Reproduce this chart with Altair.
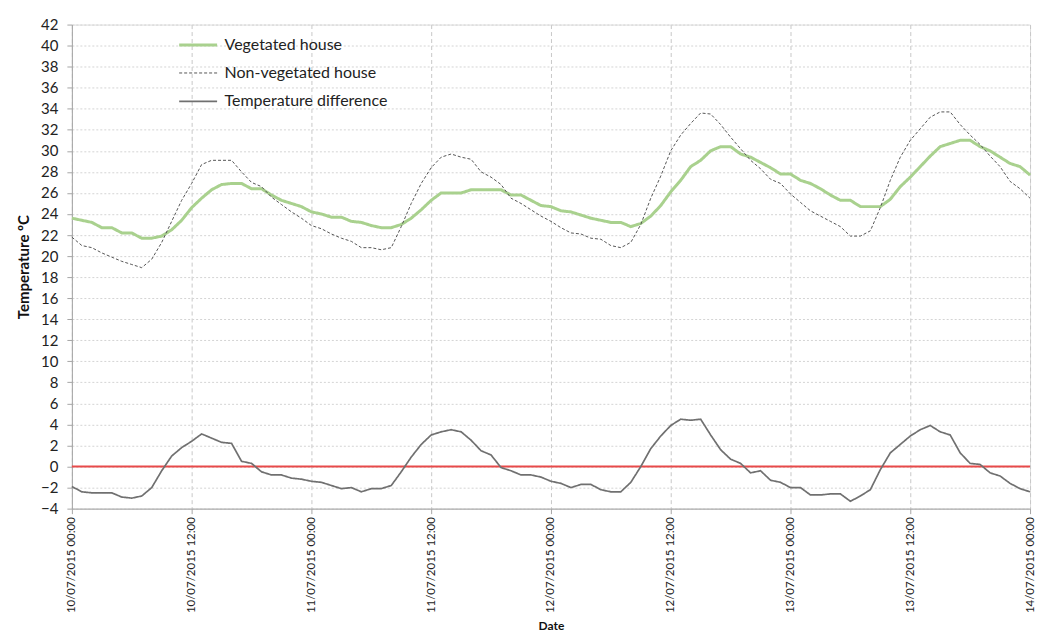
import altair as alt
import pandas as pd

series_names = ["Vegetated house", "Non-vegetated house", "Temperature difference"]

vegetated = [
    23.6, 23.4, 23.2, 22.7, 22.7, 22.2, 22.2, 21.7, 21.7, 21.9, 22.5, 23.4, 24.6, 25.5, 26.3, 26.8, 26.9, 26.9, 26.4, 26.4, 25.8, 25.3, 25.0, 24.7, 24.2,
    24.0, 23.7, 23.7, 23.3, 23.2, 22.9, 22.7, 22.7, 23.0, 23.6, 24.4, 25.3, 26.0, 26.0, 26.0, 26.3, 26.3, 26.3, 26.3, 25.8, 25.8, 25.3, 24.8, 24.7,
    24.3, 24.2, 23.9, 23.6, 23.4, 23.2, 23.2, 22.8, 23.1, 23.8, 24.8, 26.1, 27.2, 28.5, 29.1, 30.0, 30.4, 30.4, 29.7, 29.4, 28.9, 28.4, 27.8, 27.8,
    27.2, 26.9, 26.4, 25.8, 25.3, 25.3, 24.7, 24.7, 24.7, 25.4, 26.6, 27.5, 28.5, 29.5, 30.4, 30.7, 31.0, 31.0, 30.4, 30.0, 29.4, 28.8, 28.5, 27.7,
]

non_vegetated = [
    21.8, 21.0, 20.8, 20.3, 19.9, 19.5, 19.2, 18.9, 19.7, 21.3, 23.3, 25.3, 26.9, 28.7, 29.1, 29.1, 29.1, 28.0, 27.0, 26.6, 25.6, 24.9, 24.2, 23.6, 22.9,
    22.6, 22.1, 21.7, 21.4, 20.8, 20.8, 20.6, 20.8, 22.8, 25.0, 26.9, 28.4, 29.4, 29.7, 29.4, 29.2, 28.0, 27.5, 26.8, 25.5, 25.0, 24.4, 23.8, 23.3,
    22.7, 22.2, 22.1, 21.7, 21.6, 21.0, 20.8, 21.3, 23.0, 25.5, 27.6, 30.0, 31.5, 32.6, 33.6, 33.5, 32.5, 31.3, 30.2, 29.1, 28.3, 27.3, 26.9, 25.9,
    25.1, 24.3, 23.8, 23.3, 22.8, 21.9, 21.9, 22.4, 24.6, 27.2, 29.4, 31.0, 32.1, 33.2, 33.7, 33.7, 32.5, 31.5, 30.6, 29.5, 28.5, 27.1, 26.4, 25.5,
]

difference = [
    -1.9, -2.4, -2.5, -2.5, -2.5, -2.9, -3.0, -2.8, -2.0, -0.4, 1.0, 1.8, 2.4, 3.1, 2.7, 2.3, 2.2, 0.5, 0.3, -0.5, -0.8, -0.8, -1.1, -1.2, -1.4,
    -1.5, -1.8, -2.1, -2.0, -2.4, -2.1, -2.1, -1.8, -0.5, 0.9, 2.1, 3.0, 3.3, 3.5, 3.3, 2.5, 1.5, 1.1, -0.1, -0.4, -0.8, -0.8, -1.0, -1.4,
    -1.6, -2.0, -1.7, -1.7, -2.2, -2.4, -2.4, -1.5, 0.0, 1.7, 2.9, 3.9, 4.5, 4.4, 4.5, 3.0, 1.6, 0.7, 0.3, -0.6, -0.4, -1.3, -1.5, -2.0,
    -2.0, -2.7, -2.7, -2.6, -2.6, -3.3, -2.8, -2.2, -0.3, 1.3, 2.1, 2.9, 3.5, 3.9, 3.3, 3.0, 1.3, 0.3, 0.2, -0.6, -0.9, -1.6, -2.1, -2.4,
]

times = pd.date_range("2015-07-10 00:00", periods=len(vegetated), freq="h").strftime("%Y-%m-%dT%H:%M:%S").tolist()
zero_line = [0]
y_ticks = list(range(-4, 43, 2))
x_tick_hours = list(range(0, 97, 12))

rows = []
for name, vals in zip(series_names, [vegetated, non_vegetated, difference]):
    for t, v in zip(times, vals):
        rows.append({"time": t, "value": v, "series": name})
df = pd.DataFrame(rows)
zero_df = pd.DataFrame({"value": zero_line})

x_values = [alt.DateTime(year=2015, month=7, date=10 + h // 24, hours=h % 24) for h in x_tick_hours]

FONT = "Lato"

legend = alt.Legend(
    title=None, orient="none", legendX=106, legendY=0,
    symbolType="stroke", symbolSize=1444, labelFontSize=16, labelFont=FONT,
    labelColor="#222222", rowPadding=-5, labelOffset=6, labelLimit=400,
)

x_enc = alt.X(
    "time:T",
    scale=alt.Scale(domain=[x_values[0], x_values[-1]]),
    axis=alt.Axis(
        values=x_values, format="%d/%m/%Y %H:%M", labelAngle=270,
        labelFont=FONT, labelFontSize=11.5, labelColor="#222222", labelOverlap=False,
        title="Date", titleFont=FONT, titleFontSize=12, titleFontWeight="bold",
        titleColor="#111111", titlePadding=8,
        grid=True, gridColor="#c8c8c8", gridDash=[4, 3], gridWidth=1,
        domainColor="#a6a6a6", tickColor="#a6a6a6", tickSize=5, labelPadding=3,
    ),
)

y_axis = alt.Axis(
    values=y_ticks, labelFont=FONT, labelFontSize=15, labelColor="#222222",
    labelOverlap=False, labelBound=False,
    title="Temperature ºC", titleFont=FONT, titleFontSize=15,
    titleFontWeight="bold", titleColor="#111111", titlePadding=9,
    grid=True, gridColor="#d4d4d4", gridDash=[2, 2], gridWidth=1,
    domainColor="#a6a6a6", tickColor="#a6a6a6", tickSize=5, labelPadding=9,
)
y_scale = alt.Scale(domain=[-4, 42], nice=False, zero=False)

lines = alt.Chart(df).mark_line().encode(
    x=x_enc,
    y=alt.Y("value:Q", scale=y_scale, axis=y_axis),
    color=alt.Color(
        "series:N",
        scale=alt.Scale(domain=series_names, range=["#a9d18e", "#555555", "#707070"]),
        legend=legend,
    ),
    strokeDash=alt.StrokeDash(
        "series:N",
        scale=alt.Scale(domain=series_names, range=[[1, 0], [3, 2], [1, 0]]),
        legend=legend,
    ),
    strokeWidth=alt.StrokeWidth(
        "series:N",
        scale=alt.Scale(type="ordinal", domain=series_names, range=[3, 1, 1.7]),
        legend=legend,
    ),
)

rule = alt.Chart(zero_df).mark_rule(color="#e84a4a", strokeWidth=2).encode(
    y=alt.Y("value:Q", scale=y_scale, axis=y_axis)
)

chart = alt.layer(rule, lines).properties(
    width=960, height=485,
    autosize=alt.AutoSizeParams(type="none"),
    padding={"left": 64, "top": 16, "right": 20, "bottom": 126},
).configure_view(stroke=None).configure_axisY(labelOverlap=False).configure(background="white")

chart.save("out.html", embed_options={"renderer": "svg", "actions": False})
